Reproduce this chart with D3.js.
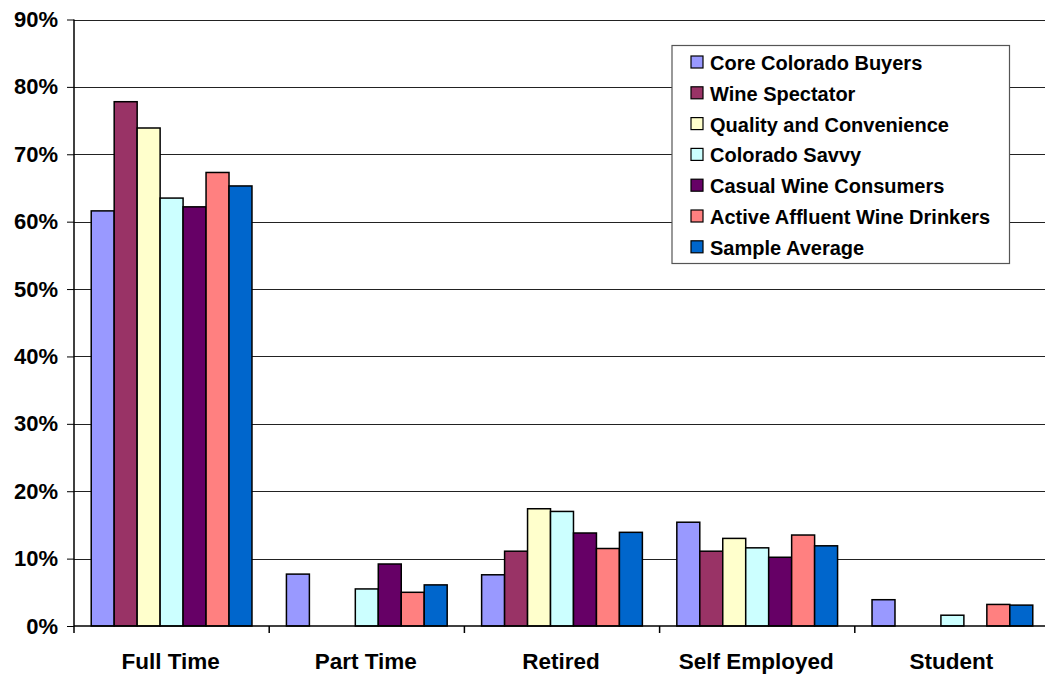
<!DOCTYPE html>
<html><head><meta charset="utf-8">
<script src="https://cdn.jsdelivr.net/npm/d3@7"></script>
<style>body{margin:0;background:#fff;}svg{display:block;}</style>
</head><body>
<svg id="c" width="1045" height="677"></svg>
<script>
const categories = ["Full Time","Part Time","Retired","Self Employed","Student"];
const seriesNames = ["Core Colorado Buyers","Wine Spectator","Quality and Convenience","Colorado Savvy","Casual Wine Consumers","Active Affluent Wine Drinkers","Sample Average"];
const seriesColors = ["#9999FF","#993366","#FFFFCC","#CCFFFF","#660066","#FF8080","#0066CC"];
const coreColorado = [61.6, 7.7, 7.6, 15.4, 3.9];
const wineSpectator = [77.8, 0, 11.1, 11.1, 0];
const qualityConvenience = [73.9, 0, 17.4, 13.0, 0];
const coloradoSavvy = [63.5, 5.5, 17.0, 11.6, 1.6];
const casualWine = [62.2, 9.2, 13.8, 10.2, 0];
const activeAffluent = [67.3, 5.0, 11.5, 13.5, 3.2];
const sampleAverage = [65.3, 6.1, 13.9, 11.9, 3.1];
const seriesValues = [coreColorado, wineSpectator, qualityConvenience, coloradoSavvy, casualWine, activeAffluent, sampleAverage];
const yTicks = [0,10,20,30,40,50,60,70,80,90];

(function(){
const svg = d3.select("#c");
const mLeft = 74, mTop = 19.5, mBottom = 626, mRight = 74 + 5*195.2;
const x0 = d3.scaleBand().domain(categories).range([mLeft, mRight]).paddingInner(0).paddingOuter(0);
const x1 = d3.scaleBand().domain(seriesNames).range([0, x0.bandwidth()]).paddingOuter(0.75).paddingInner(0);
const y = d3.scaleLinear().domain([0,90]).range([mBottom, mTop]);

svg.append("g").selectAll("line").data(yTicks.filter(d=>d>0)).join("line")
  .attr("x1", mLeft).attr("x2", 1045).attr("y1", d=>Math.round(y(d))+0.5).attr("y2", d=>Math.round(y(d))+0.5)
  .attr("stroke","#222").attr("stroke-width",1);

const groups = svg.append("g").selectAll("g").data(categories).join("g")
  .attr("transform", d=>`translate(${x0(d)},0)`);
groups.selectAll("rect").data((c,ci)=>seriesNames.map((s,si)=>({s, si, v: seriesValues[si][ci]})).filter(d=>d.v>0))
  .join("rect")
  .attr("x", d=>x1(d.s)).attr("width", x1.bandwidth())
  .attr("y", d=>y(d.v)).attr("height", d=>mBottom - y(d.v))
  .attr("fill", d=>seriesColors[d.si]).attr("stroke","#000").attr("stroke-width",1.5);

const yAxis = d3.axisLeft(y).tickValues(yTicks).tickSize(7).tickPadding(9).tickFormat(d=>d+"%");
const gy = svg.append("g").attr("transform",`translate(${mLeft},0)`).call(yAxis);
gy.select(".domain").attr("stroke","#000").attr("stroke-width",1.5).attr("d",`M0,${mTop}V${mBottom}`);
gy.selectAll(".tick line").attr("stroke","#000");
gy.selectAll("text").attr("font-family","Liberation Sans, Arial, sans-serif").attr("font-weight","bold").attr("font-size","22px").attr("fill","#000");

const gx = svg.append("g").attr("transform",`translate(0,${mBottom})`);
gx.append("line").attr("x1",mLeft).attr("x2",1045).attr("y1",0).attr("y2",0).attr("stroke","#000").attr("stroke-width",1.5);
gx.selectAll("line.t").data(categories).join("line").attr("class","t")
  .attr("x1",d=>x0(d)).attr("x2",d=>x0(d)).attr("y1",0).attr("y2",7).attr("stroke","#000").attr("stroke-width",1.5);
gx.selectAll("text").data(categories).join("text")
  .attr("x",d=>x0(d)+x0.bandwidth()/2 - 1).attr("y",43)
  .attr("text-anchor","middle")
  .attr("font-family","Liberation Sans, Arial, sans-serif").attr("font-weight","bold").attr("font-size","22.5px")
  .text(d=>d);

const lg = svg.append("g").attr("transform","translate(672,45.5)");
lg.append("rect").attr("width",337.5).attr("height",218).attr("fill","#fff").attr("stroke","#555").attr("stroke-width",1.2);
const items = lg.selectAll("g").data(seriesNames).join("g").attr("transform",(d,i)=>`translate(19,${17+i*30.8})`);
items.append("rect").attr("x",0).attr("y",-6.5).attr("width",12).attr("height",12)
  .attr("fill",(d,i)=>seriesColors[i]).attr("stroke","#000").attr("stroke-width",1.2);
items.append("text").attr("x",19).attr("y",7.5)
  .attr("font-family","Liberation Sans, Arial, sans-serif").attr("font-weight","bold").attr("font-size","20px")
  .text(d=>d);
})();
</script>
</body></html>
